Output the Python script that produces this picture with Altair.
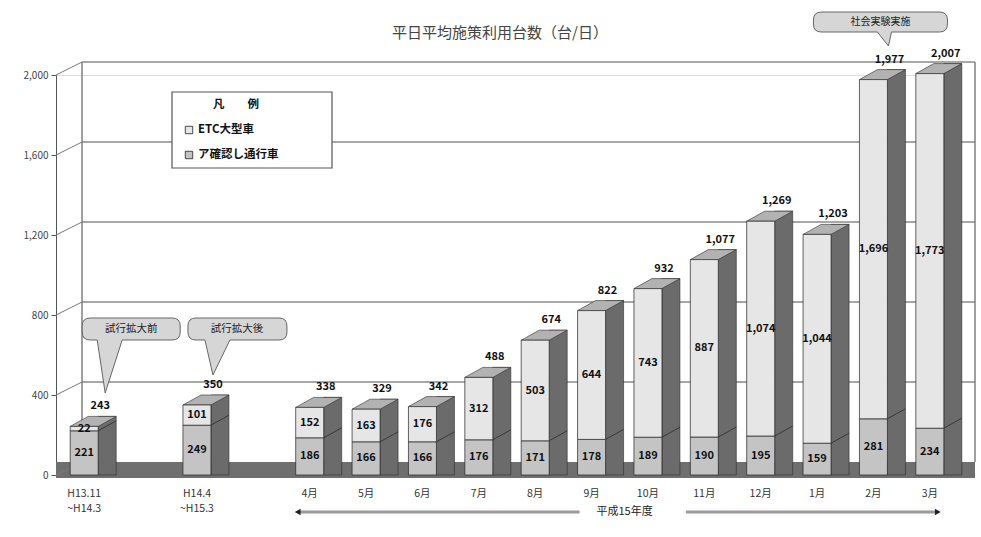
import altair as alt
import pandas as pd

FONT = "Noto Sans CJK JP"

# ---- data -------------------------------------------------------------
categories = ["H13.11\n~H14.3", "H14.4\n~H15.3", "4月", "5月", "6月", "7月",
              "8月", "9月", "10月", "11月", "12月", "1月", "2月", "3月"]
etc_large = [22, 101, 152, 163, 176, 312, 503, 644, 743, 887, 1074, 1044, 1696, 1773]
other_pass = [221, 249, 186, 166, 166, 176, 171, 178, 189, 190, 195, 159, 281, 234]
series_names = ["ETC大型車", "ア確認し通行車"]
series_colors = ["#e6e6e6", "#c4c4c4"]
y_ticks = [0, 400, 800, 1200, 1600, 2000]
title_text = "平日平均施策利用台数（台/日）"
legend_title = "凡　　例"
fiscal_label = "平成15年度"
callout_texts = ["試行拡大前", "試行拡大後", "社会実験実施"]

# the two long periods stand apart from the monthly run: one empty slot after each
x_domain = [categories[0], " ", categories[1], "  "] + categories[2:]

# ---- geometry ---------------------------------------------------------
W, H = 902, 400
DX, DY = 18, 10          # depth of each column
WX, WY = 26, 13          # depth of the back wall
WALL_RIGHT = 919

xs = alt.Scale(domain=x_domain, paddingInner=0, paddingOuter=0)
ys = alt.Scale(domain=[0, 2000], nice=False, zero=True)

seg_rows, tot_rows = [], []
for c, top, bot in zip(categories, etc_large, other_pass):
    seg_rows.append(dict(cat=c, series=series_names[1], lo=0, hi=bot, value=bot))
    seg_rows.append(dict(cat=c, series=series_names[0], lo=bot, hi=bot + top, value=top))
    tot_rows.append(dict(cat=c, total=bot + top, bottom=bot))
seg = pd.DataFrame(seg_rows)
seg["mid"] = (seg["lo"] + seg["hi"]) / 2
tot = pd.DataFrame(tot_rows)
one = pd.DataFrame({"k": [0]})


def xcat():
    return alt.X("cat:N", scale=xs)


def xat(cat):
    return alt.X(datum=cat, type="nominal", scale=xs)


seg_color = alt.Color("series:N", scale=alt.Scale(domain=series_names, range=series_colors),
                      legend=None)

# ---- axes (carried by an invisible copy of the front faces) -------------
axes = alt.Chart(seg).mark_bar(size=28, opacity=0).encode(
    x=alt.X("cat:N", scale=xs, title=None, axis=alt.Axis(
        labelExpr="split(datum.label, '\\n')", domain=False, ticks=False, grid=False,
        labelPadding=13, labelFontSize=10.5, labelColor="#333", labelFont=FONT,
        labelAngle=0, labelOverlap=False, labelLineHeight=15, labelBaseline="top")),
    y=alt.Y("lo:Q", scale=ys, title=None, axis=alt.Axis(
        values=y_ticks, labelExpr="format(datum.value, ',')", grid=False, tickSize=5,
        tickColor="#555", domainColor="#555", labelFontSize=10, labelColor="#444",
        labelFont=FONT, labelPadding=3)),
    y2=alt.Y2("hi:Q"),
)

# ---- back wall, floor and front axis connectors ------------------------
grid = alt.Chart(pd.DataFrame({"v": y_ticks[1:]})).mark_rule(
    color="#8a8a8a", strokeWidth=1.6, yOffset=-WY
).encode(x=alt.value(WX), x2=alt.value(WALL_RIGHT), y=alt.Y("v:Q", scale=ys))

wall_left = alt.Chart(one).mark_rule(color="#777", strokeWidth=1.4, yOffset=-WY, y2Offset=-WY).encode(
    x=alt.value(WX), y=alt.Y(datum=0, scale=ys), y2=alt.Y2(datum=2000))
wall_right = alt.Chart(one).mark_rule(color="#777", strokeWidth=1.4, yOffset=-WY, y2Offset=-WY).encode(
    x=alt.value(WALL_RIGHT), y=alt.Y(datum=0, scale=ys), y2=alt.Y2(datum=2000))

floor = alt.Chart(one).mark_rect(color="#6f6f6f", yOffset=3, y2Offset=-WY).encode(
    x=alt.value(0), x2=alt.value(WALL_RIGHT),
    y=alt.Y(datum=0, scale=ys), y2=alt.Y2(datum=0))

conn = alt.Chart(pd.DataFrame({"v": y_ticks})).mark_rule(
    color="#777", strokeWidth=1, y2Offset=-WY
).encode(x=alt.value(0), x2=alt.value(WX), y=alt.Y("v:Q", scale=ys), y2=alt.Y2("v:Q"))

# ---- columns -------------------------------------------------------------
side = alt.Chart(tot).mark_bar(
    size=DX, xOffset=14 + DX / 2, yOffset=-DY, color="#6b6b6b",
    stroke="#2b2b2b", strokeWidth=0.6
).encode(x=xcat(), y=alt.Y("total:Q", scale=ys), y2=alt.Y2(datum=0))

side_split = alt.Chart(tot).mark_rule(
    color="#2b2b2b", strokeWidth=0.8, xOffset=14, x2Offset=14 + DX, y2Offset=-DY
).encode(x=xcat(), x2=alt.X2("cat:N"),
         y=alt.Y("bottom:Q", scale=ys), y2=alt.Y2("bottom:Q"))

top_face = alt.Chart(tot).mark_point(
    shape="M-14,0L14,0L32,-10L4,-10Z", size=4, filled=True, fill="#b2b2b2",
    stroke="#2b2b2b", strokeWidth=0.6, opacity=1
).encode(x=xcat(), y=alt.Y("total:Q", scale=ys))

front = alt.Chart(seg).mark_bar(size=28, stroke="#222", strokeWidth=0.7).encode(
    x=xcat(), y=alt.Y("lo:Q", scale=ys), y2=alt.Y2("hi:Q"), color=seg_color)

seg_labels = alt.Chart(seg).mark_text(
    font=FONT, fontSize=11, fontWeight="bold", color="#111"
).encode(x=xcat(), y=alt.Y("mid:Q", scale=ys), text=alt.Text("value:Q", format=","))

tot_labels = alt.Chart(tot).mark_text(
    font=FONT, fontSize=11, fontWeight="bold", color="#111", xOffset=16, yOffset=-20
).encode(x=xcat(), y=alt.Y("total:Q", scale=ys), text=alt.Text("total:Q", format=","))

# ---- fiscal-year span under the monthly columns --------------------------
SPAN_Y = 437
span_left = alt.Chart(one).mark_rule(color="#9a9a9a", strokeWidth=3, xOffset=-12, x2Offset=-12).encode(
    x=xat("4月"), x2=alt.X2(datum="9月"), y=alt.value(SPAN_Y))
span_right = alt.Chart(one).mark_rule(color="#9a9a9a", strokeWidth=3, xOffset=38, x2Offset=8).encode(
    x=xat("10月"), x2=alt.X2(datum="3月"), y=alt.value(SPAN_Y))
arrow_l = alt.Chart(one).mark_point(shape="triangle-left", size=45, filled=True, color="#222",
                                    opacity=1, xOffset=-12).encode(x=xat("4月"), y=alt.value(SPAN_Y))
arrow_r = alt.Chart(one).mark_point(shape="triangle-right", size=45, filled=True, color="#222",
                                    opacity=1, xOffset=8).encode(x=xat("3月"), y=alt.value(SPAN_Y))
span_text = alt.Chart(one).mark_text(font=FONT, fontSize=11, color="#222", xOffset=33).encode(
    x=xat("9月"), y=alt.value(SPAN_Y), text=alt.value(fiscal_label))

# ---- callouts (balloon outline drawn in pixel units, size=4 -> 1 unit = 1px)
balloon1 = ("M6,-11H88Q96,-11 96,-3V3Q96,11 88,11H38L21,64L13,11H6"
            "Q-2,11 -2,3V-3Q-2,-11 6,-11Z")
balloon2 = ("M-1,-11H82Q90,-11 90,-3V3Q90,11 82,11H33L16,46L8,11H-1"
            "Q-9,11 -9,3V-3Q-9,-11 -1,-11Z")
balloon3 = ("M-52,-10H66Q74,-10 74,-2V2Q74,10 66,10H18L15,24L4,10H-52"
            "Q-60,10 -60,2V-2Q-60,-10 -52,-10Z")


def callout(cat, path, y, text, dx, fs):
    shape = alt.Chart(one).mark_point(
        shape=path, size=4, filled=True, fill="#d6d6d6", stroke="#666",
        strokeWidth=1, opacity=1).encode(x=xat(cat), y=alt.value(y))
    label = alt.Chart(one).mark_text(font=FONT, fontSize=fs, color="#222", xOffset=dx).encode(
        x=xat(cat), y=alt.value(y), text=alt.value(text))
    return [shape, label]


callout_layers = (callout(categories[0], balloon1, 254, callout_texts[0], 47, 10.5)
                  + callout(categories[1], balloon2, 254, callout_texts[1], 40, 10.5)
                  + callout("2月", balloon3, -53, callout_texts[2], 7, 10))

# ---- legend box -----------------------------------------------------------
leg_box = alt.Chart(one).mark_rect(fill="white", stroke="#555", strokeWidth=1.2).encode(
    x=alt.value(116), x2=alt.value(276), y=alt.value(17), y2=alt.value(93))
leg_title = alt.Chart(one).mark_text(font=FONT, fontSize=11.5, fontWeight="bold", color="#111").encode(
    x=alt.value(180), y=alt.value(30), text=alt.value(legend_title))


def legend_item(i, py):
    mark = alt.Chart(one).mark_point(shape="square", size=55, filled=True, stroke="#222",
                                     strokeWidth=0.8, opacity=1, fill=series_colors[i]).encode(
        x=alt.value(133), y=alt.value(py))
    text = alt.Chart(one).mark_text(font=FONT, fontSize=11.5, fontWeight="bold", color="#111",
                                    align="left").encode(
        x=alt.value(142), y=alt.value(py), text=alt.value(series_names[i]))
    return [mark, text]


legend_layers = legend_item(0, 55) + legend_item(1, 80)

title = alt.Chart(one).mark_text(font=FONT, fontSize=15, color="#444").encode(
    x=alt.value(W / 2 - 7), y=alt.value(-42), text=alt.value(title_text))

chart = alt.layer(
    axes, grid, wall_left, wall_right, floor, conn,
    side, side_split, top_face, front, seg_labels, tot_labels,
    span_left, span_right, arrow_l, arrow_r, span_text,
    *callout_layers,
    leg_box, leg_title, *legend_layers, title,
).properties(
    width=W, height=H,
    autosize=alt.AutoSizeParams(type="none"),
    padding={"left": 56, "top": 75, "right": 23, "bottom": 62},
).configure_view(stroke=None).configure(background="white")

chart.save("out.html", embed_options={"renderer": "svg", "actions": False})
